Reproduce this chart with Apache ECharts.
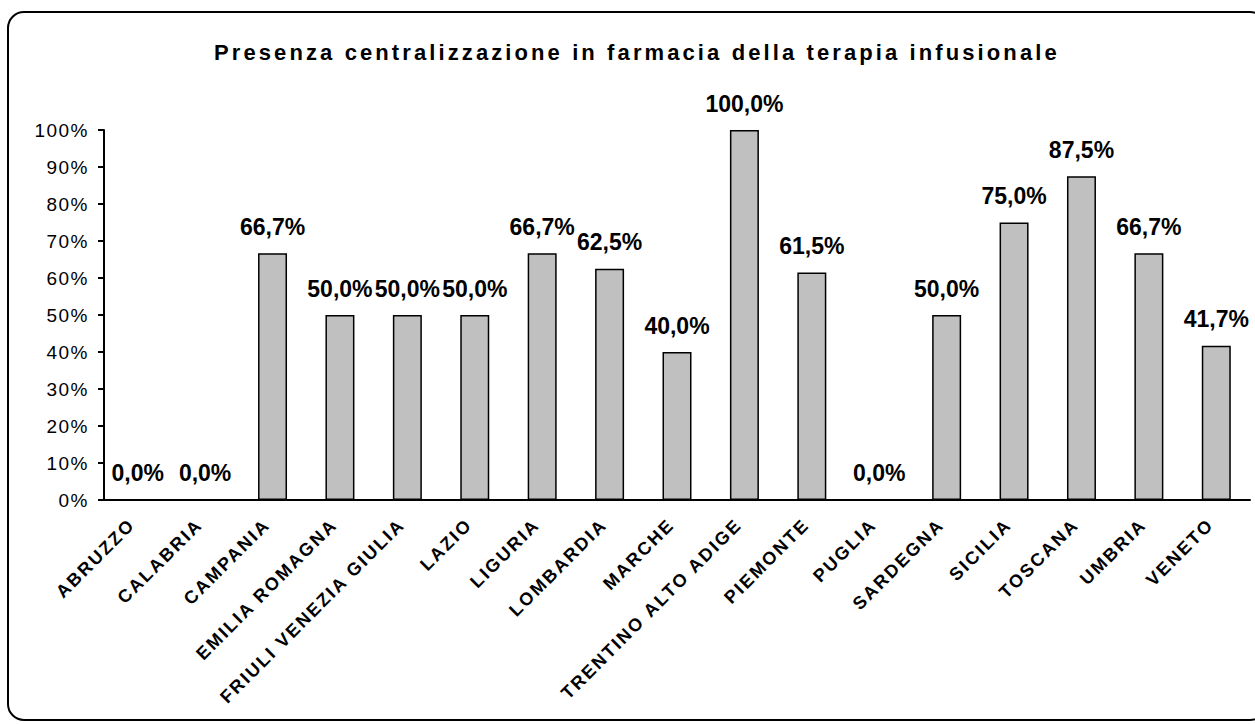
<!DOCTYPE html>
<html>
<head>
<meta charset="utf-8">
<title>Presenza centralizzazione</title>
<script src="https://cdn.jsdelivr.net/npm/echarts@6/dist/echarts.min.js"></script>
<style>
  html, body { margin: 0; padding: 0; background: #fff; }
  #main { width: 1255px; height: 724px; }
</style>
</head>
<body>
<div id="main"></div>
<script>
// regioni e percentuali
const regioni = [
  "ABRUZZO", "CALABRIA", "CAMPANIA", "EMILIA ROMAGNA", "FRIULI VENEZIA GIULIA",
  "LAZIO", "LIGURIA", "LOMBARDIA", "MARCHE", "TRENTINO ALTO ADIGE",
  "PIEMONTE", "PUGLIA", "SARDEGNA", "SICILIA", "TOSCANA", "UMBRIA", "VENETO"
];
const percentuali = [0, 0, 66.7, 50, 50, 50, 66.7, 62.5, 40, 100, 61.5, 0, 50, 75, 87.5, 66.7, 41.7];
const yMin = 0;
const yMax = 100;
const yStep = 10;

const font = "Liberation Sans, Arial, sans-serif";

// spaziatura lettere stile Excel, per dimensione del font
const spaziatura = { "22px": "3.1px", "19px": "1.5px", "18px": "2.2px" };

const chart = echarts.init(document.getElementById("main"), null, { renderer: "svg" });
const option = {
  animation: false,
  backgroundColor: "#fff",
  title: {
    text: "Presenza centralizzazione in farmacia della terapia infusionale",
    left: 209,
    top: 36,
    textStyle: { fontFamily: font, fontSize: 22, fontWeight: "bold", color: "#000" }
  },
  graphic: [{
    type: "rect",
    shape: { x: 8, y: 12, width: 1258, height: 708, r: 16 },
    style: { fill: "none", stroke: "#000", lineWidth: 2 },
    silent: true
  }],
  grid: { left: 104, right: 5, top: 130, bottom: 224, containLabel: false },
  xAxis: {
    type: "category",
    data: regioni,
    axisLine: { lineStyle: { color: "#000", width: 2 } },
    axisTick: { length: 6, lineStyle: { color: "#000", width: 2 } },
    axisLabel: {
      rotate: 45,
      interval: 0,
      margin: 16,
      padding: [0, 8, 0, 0],
      fontFamily: font,
      fontSize: 18,
      fontWeight: "bold",
      color: "#000"
    }
  },
  yAxis: {
    type: "value",
    min: yMin,
    max: yMax,
    interval: yStep,
    splitLine: { show: false },
    axisLine: { show: true, lineStyle: { color: "#000", width: 2 } },
    axisTick: { show: true, length: 6, lineStyle: { color: "#000", width: 2 } },
    axisLabel: {
      formatter: "{value}%",
      margin: 15,
      fontFamily: font,
      fontSize: 19,
      color: "#000"
    }
  },
  series: [{
    type: "bar",
    data: percentuali,
    barWidth: "43%",
    itemStyle: { color: "#c0c0c0", borderColor: "#000", borderWidth: 1.5 },
    label: {
      show: true,
      position: "top",
      distance: 15,
      fontFamily: font,
      fontSize: 23,
      fontWeight: "bold",
      color: "#000",
      formatter: p => p.value.toFixed(1).replace(".", ",") + "%"
    }
  }]
};
chart.setOption(option);

const applicaSpaziatura = () => {
  document.querySelectorAll("#main svg text").forEach(t => {
    const fs = getComputedStyle(t).fontSize;
    if (spaziatura[fs]) t.style.letterSpacing = spaziatura[fs];
  });
};
applicaSpaziatura();
chart.on("finished", applicaSpaziatura);
</script>
</body>
</html>
